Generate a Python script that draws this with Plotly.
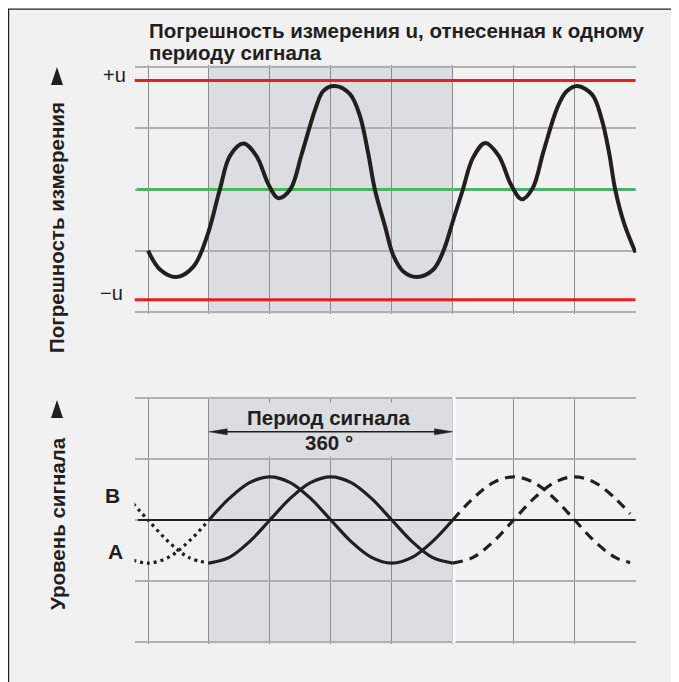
import plotly.graph_objects as go

# page body has an 8px margin: figure sits at (8, 8) inside the 679x682 window
OFF = 8
W, H = 679 - OFF, 682 - OFF

# ---------------- data ----------------
# x axis in degrees of the signal period (grid every 90 deg)
grid_x = [-90, 0, 90, 180, 270, 360, 450, 540, 630]
grid_y = [-2, -1, 0, 1, 2]
period_start, period_end = 0, 360

err_x = [-90, -72, -48, -23, -3, 16, 31, 51, 70, 88, 102, 120, 137, 157, 169, 186,
         208, 223, 235, 245, 260, 272, 287, 307, 331, 346, 361,
         375, 390, 408, 428, 446, 462, 478, 494, 515, 528, 544, 566, 580, 591, 600, 613, 630]
err_y = [-1.00, -1.31, -1.43, -1.26, -0.77, 0.00, 0.55, 0.75, 0.55, 0.08, -0.14, 0.00, 0.58, 1.31, 1.61, 1.69,
         1.56, 1.20, 0.60, 0.00, -0.60, -1.07, -1.34, -1.43, -1.31, -1.01, -0.49,
         0.00, 0.52, 0.76, 0.55, 0.08, -0.16, 0.02, 0.62, 1.35, 1.60, 1.69, 1.55, 1.15, 0.60, 0.00, -0.55, -1.03]
limit_plus = 1.78
limit_minus = -1.80

# signal curves (bottom panel)
pre_x = [-112, -90, -60, -30, 0]
pre_A = [-0.66, -0.71, -0.615, -0.355, 0.0]
pre_B = [0.27, 0.0, -0.355, -0.615, -0.71]

per_x = [0, 30, 60, 90, 120, 150, 180, 210, 240, 270, 300, 330, 360]
per_A = [0.0, 0.355, 0.615, 0.71, 0.615, 0.355, 0.0, -0.355, -0.615, -0.71, -0.615, -0.355, 0.0]
per_B = [-0.71, -0.615, -0.355, 0.0, 0.355, 0.615, 0.71, 0.615, 0.355, 0.0, -0.355, -0.615, -0.71]

post_x = [360, 390, 420, 450, 480, 510, 540, 570, 600, 622]
post_A = [0.0, 0.355, 0.615, 0.71, 0.615, 0.355, 0.0, -0.355, -0.615, -0.70]
post_B = [-0.71, -0.615, -0.355, 0.0, 0.355, 0.615, 0.71, 0.615, 0.355, 0.10]

title_lines = ["Погрешность измерения u, отнесенная к одному", "периоду сигнала"]
ylabel_top = "Погрешность измерения"
ylabel_bottom = "Уровень сигнала"
period_label = ["Период сигнала", "360 °"]

# ---------------- style ----------------
INK = "#231f20"
RED = "#ec1c24"
GREEN = "#4cb565"
SHADE = "#dcdde0"
BG = "#f1f1f1"
HGRID = "#b0b0b0"
VGRID = "#8c8c8c"
FONT = "Liberation Sans, Arial, sans-serif"

XR = [-110, 631]
YR = [-2.03, 2.03]

def px_x(p):
    return (p - OFF) / W

def px_y(p):
    return 1 - (p - OFF) / H

fig = go.Figure()

# top panel lines
fig.add_trace(go.Scatter(x=[XR[0], grid_x[-1]], y=[limit_plus] * 2, mode="lines",
                         line=dict(color=RED, width=3), xaxis="x", yaxis="y"))
fig.add_trace(go.Scatter(x=[XR[0], grid_x[-1]], y=[limit_minus] * 2, mode="lines",
                         line=dict(color=RED, width=3), xaxis="x", yaxis="y"))
fig.add_trace(go.Scatter(x=[-107, grid_x[-1]], y=[0, 0], mode="lines",
                         line=dict(color=GREEN, width=3.2), xaxis="x", yaxis="y"))
fig.add_trace(go.Scatter(x=err_x, y=err_y, mode="lines",
                         line=dict(color=INK, width=4, shape="spline", smoothing=1.0),
                         xaxis="x", yaxis="y"))

# bottom panel
fig.add_trace(go.Scatter(x=[-105, grid_x[-1]], y=[0, 0], mode="lines",
                         line=dict(color=INK, width=2), xaxis="x2", yaxis="y2"))
for xs, ys, dash in [(pre_x, pre_A, "3px,4px"), (pre_x, pre_B, "3px,4px"),
                     (per_x, per_A, "solid"), (per_x, per_B, "solid"),
                     (post_x, post_A, "10px,7px"), (post_x, post_B, "10px,7px")]:
    fig.add_trace(go.Scatter(x=xs, y=ys, mode="lines",
                             line=dict(color=INK, width=3.2, dash=dash, shape="spline"),
                             xaxis="x2", yaxis="y2"))

# period arrow (line + two narrow heads)
arr_y = 1.45
head_len = 27
head_hw = 0.05
fig.add_trace(go.Scatter(x=[period_start + head_len / 2, period_end - head_len / 2], y=[arr_y, arr_y],
                         mode="lines", line=dict(color=INK, width=1.5), xaxis="x2", yaxis="y2"))
fig.add_trace(go.Scatter(x=[period_start, period_start + head_len, period_start + head_len, period_start],
                         y=[arr_y, arr_y + head_hw, arr_y - head_hw, arr_y],
                         mode="lines", fill="toself", fillcolor=INK, line=dict(color=INK, width=0.5),
                         xaxis="x2", yaxis="y2"))
fig.add_trace(go.Scatter(x=[period_end, period_end - head_len, period_end - head_len, period_end],
                         y=[arr_y, arr_y + head_hw, arr_y - head_hw, arr_y],
                         mode="lines", fill="toself", fillcolor=INK, line=dict(color=INK, width=0.5),
                         xaxis="x2", yaxis="y2"))

shapes = [
    dict(type="rect", xref="paper", yref="paper", x0=0.6 / W, x1=1.05, y0=-0.05, y1=1 - 1.2 / H,
         fillcolor=BG, line=dict(color=INK, width=1.2), layer="below"),
    dict(type="rect", xref="x", yref="y", x0=period_start, x1=period_end, y0=YR[0], y1=YR[1],
         fillcolor=SHADE, line=dict(width=0), layer="below"),
    dict(type="rect", xref="x2", yref="y2", x0=period_start, x1=period_end, y0=YR[0], y1=YR[1],
         fillcolor=SHADE, line=dict(width=0), layer="below"),
    dict(type="rect", xref="x2", yref="y2", x0=period_start + 1, x1=period_end - 1, y0=1.04, y1=1.93,
         fillcolor=SHADE, line=dict(width=0), layer="between"),
    dict(type="line", xref="x2", yref="y2", x0=361.8, x1=361.8, y0=YR[0], y1=YR[1],
         line=dict(color="white", width=3), layer="between"),
    # label arrow-heads (decoration)
    dict(type="path", xref="paper", yref="paper", xsizemode="pixel", ysizemode="pixel",
         xanchor=px_x(57), yanchor=px_y(85), path="M -6 0 L 6 0 L 0 18 Z",
         fillcolor=INK, line=dict(width=0)),
    dict(type="path", xref="paper", yref="paper", xsizemode="pixel", ysizemode="pixel",
         xanchor=px_x(57), yanchor=px_y(418), path="M -6 0 L 6 0 L 0 18 Z",
         fillcolor=INK, line=dict(width=0)),
]

def ann(text, x, y, size=20.5, bold=True, xanchor="center", yanchor="middle", angle=0, ref="paper"):
    return dict(text=("<b>%s</b>" % text) if bold else text, x=x, y=y, xref=ref if ref == "paper" else ref[0],
                yref=ref if ref == "paper" else ref[1], showarrow=False, xanchor=xanchor, yanchor=yanchor,
                textangle=angle, font=dict(family=FONT, size=size, color=INK))

annotations = [
    ann(title_lines[0], px_x(147), px_y(30), xanchor="left"),
    ann(title_lines[1], px_x(147), px_y(52), xanchor="left"),
    ann("+u", px_x(128), px_y(75), size=20, bold=False, xanchor="right"),
    ann("−u", px_x(125), px_y(293), size=20, bold=False, xanchor="right"),
    ann(ylabel_top, px_x(57), px_y(228), angle=-90),
    ann(ylabel_bottom, px_x(57), px_y(524), angle=-90),
    ann("B", px_x(112.5), px_y(495), size=21),
    ann("A", px_x(115), px_y(551.5), size=21),
    ann(period_label[0], 178, 1.68, ref=("x2", "y2")),
    ann(period_label[1], 178, 1.27, ref=("x2", "y2")),
]

axis_x = dict(range=XR, tickvals=grid_x, showticklabels=False, showgrid=True, gridcolor=VGRID,
              gridwidth=1, zeroline=False, showline=False, ticks="", fixedrange=True)
axis_y = dict(range=YR, tickvals=grid_y, showticklabels=False, showgrid=True, gridcolor=HGRID,
              gridwidth=2, zeroline=False, showline=False, ticks="", fixedrange=True)

xdom = [px_x(134.5), px_x(636.2)]
fig.update_layout(
    width=W, height=H, margin=dict(l=0, r=0, t=0, b=0),
    paper_bgcolor="white", plot_bgcolor="rgba(0,0,0,0)", showlegend=False,
    xaxis=dict(axis_x, domain=xdom, anchor="y"),
    yaxis=dict(axis_y, domain=[px_y(313.8), px_y(65.2)], anchor="x"),
    xaxis2=dict(axis_x, domain=xdom, anchor="y2"),
    yaxis2=dict(axis_y, domain=[px_y(643.5), px_y(396.5)], anchor="x2"),
    shapes=shapes, annotations=annotations,
)

fig.write_html("out.html")
